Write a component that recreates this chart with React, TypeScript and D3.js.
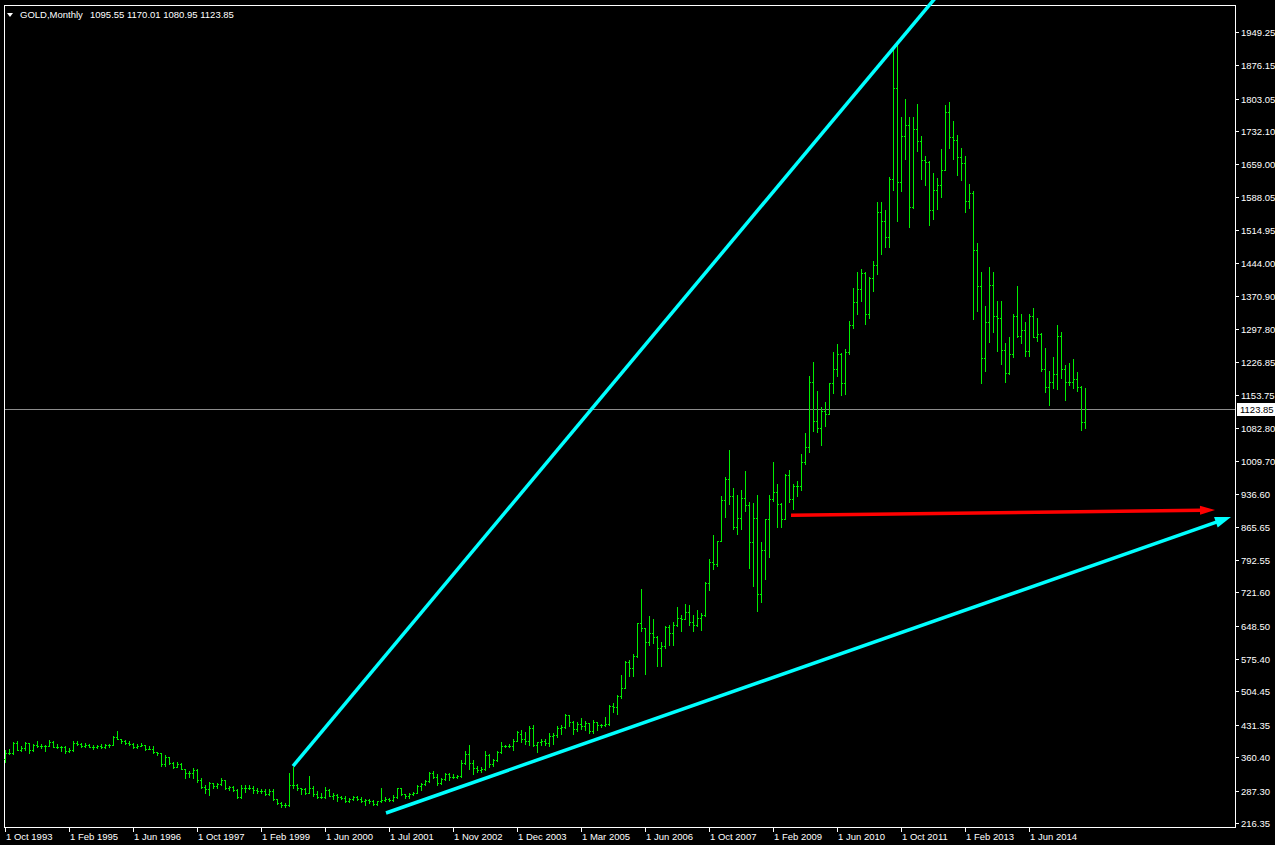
import React from "react";
import * as d3 from "d3";

// ---- Monthly OHLC bars (bar index 0 = Oct 1993 ... 270 = Aug 2015) ----
const opens: number[] = [
  356, 369, 370, 391, 377, 381, 391, 376, 387, 386, 384, 385, 394, 383, 383, 383,
  375, 376, 392, 389, 385, 387, 383, 382, 384, 382, 387, 387, 405, 400, 396, 392,
  390, 382, 385, 387, 379, 379, 371, 369, 345, 361, 348, 340, 345, 334, 326, 325,
  332, 311, 296, 290, 304, 297, 301, 310, 294, 296, 288, 273, 294, 292, 294, 288,
  287, 287, 280, 286, 268, 261, 255, 255, 299, 299, 292, 290, 283, 293, 279, 274,
  273, 288, 276, 277, 273, 271, 264, 269, 273, 268, 265, 267, 264, 258, 264, 267,
  270, 266, 273, 293, 279, 275, 279, 282, 297, 302, 308, 326, 318, 304, 312, 324,
  317, 318, 319, 347, 368, 348, 336, 333, 334, 365, 346, 354, 372, 385, 386, 385,
  396, 412, 400, 396, 424, 388, 393, 395, 391, 408, 410, 425, 426, 452, 438, 422,
  434, 428, 435, 417, 437, 430, 431, 433, 473, 470, 495, 513, 569, 556, 582, 654,
  643, 613, 633, 623, 599, 604, 646, 632, 650, 665, 663, 679, 657, 650, 665, 673,
  743, 789, 783, 834, 923, 971, 933, 865, 885, 928, 913, 833, 884, 718, 815, 882,
  927, 942, 916, 883, 979, 927, 955, 955, 1008, 1040, 1182, 1096, 1081, 1118, 1113, 1180,
  1212, 1244, 1181, 1248, 1307, 1357, 1386, 1421, 1332, 1411, 1439, 1556, 1536, 1500, 1628, 1826,
  1620, 1722, 1746, 1566, 1737, 1711, 1668, 1664, 1560, 1604, 1614, 1648, 1773, 1719, 1713, 1675,
  1663, 1578, 1596, 1472, 1393, 1234, 1313, 1396, 1327, 1323, 1253, 1202, 1244, 1326, 1284, 1296,
  1250, 1327, 1282, 1287, 1211, 1171, 1182, 1199, 1283, 1212, 1183, 1182, 1190, 1172, 1095.55,
];
const highs: number[] = [
  376, 378, 393, 396, 386, 393, 392, 389, 395, 389, 388, 398, 396, 390, 384, 385,
  380, 395, 397, 391, 391, 390, 388, 388, 389, 389, 390, 408, 418, 400, 398, 395,
  391, 389, 391, 388, 386, 384, 372, 369, 366, 362, 349, 349, 348, 335, 331, 336,
  335, 316, 299, 307, 305, 303, 316, 310, 298, 297, 290, 299, 300, 299, 297, 293,
  291, 291, 290, 290, 268, 262, 260, 326, 340, 301, 293, 294, 320, 298, 286, 283,
  295, 291, 281, 279, 276, 275, 271, 275, 275, 274, 269, 270, 267, 265, 294, 274,
  272, 278, 293, 294, 279, 281, 284, 300, 304, 310, 327, 331, 323, 316, 326, 326,
  323, 322, 354, 374, 387, 354, 342, 338, 373, 367, 357, 375, 393, 388, 389, 400,
  418, 420, 416, 428, 430, 394, 400, 400, 414, 414, 428, 430, 456, 454, 440, 438,
  446, 440, 436, 442, 438, 434, 448, 474, 479, 497, 541, 571, 574, 586, 654, 730,
  643, 670, 664, 626, 613, 648, 650, 657, 690, 673, 697, 693, 673, 682, 677, 745,
  795, 848, 835, 933, 975, 1033, 950, 935, 945, 988, 920, 917, 935, 832, 882, 936,
  1007, 960, 917, 980, 989, 960, 965, 1024, 1070, 1195, 1227, 1162, 1128, 1138, 1180, 1249,
  1265, 1245, 1254, 1316, 1388, 1424, 1431, 1424, 1412, 1448, 1577, 1577, 1560, 1632, 1913, 1921,
  1764, 1803, 1764, 1764, 1791, 1722, 1678, 1667, 1641, 1630, 1693, 1790, 1796, 1755, 1723, 1695,
  1677, 1617, 1600, 1488, 1424, 1348, 1434, 1424, 1361, 1361, 1267, 1280, 1332, 1392, 1331, 1315,
  1332, 1345, 1323, 1290, 1256, 1207, 1238, 1307, 1293, 1220, 1224, 1232, 1205, 1173, 1170.01,
];
const lows: number[] = [
  349, 367, 368, 376, 375, 377, 369, 374, 382, 380, 375, 385, 383, 381, 374, 370,
  371, 375, 388, 382, 383, 382, 379, 381, 381, 381, 383, 387, 400, 391, 389, 387,
  380, 380, 384, 377, 378, 369, 366, 342, 341, 346, 337, 338, 334, 316, 318, 316,
  307, 293, 283, 278, 293, 292, 300, 290, 288, 286, 271, 272, 285, 291, 283, 283,
  282, 278, 278, 267, 257, 252, 251, 254, 294, 289, 280, 280, 282, 275, 272, 271,
  271, 275, 270, 265, 268, 263, 262, 267, 266, 262, 255, 261, 255, 255, 262, 265,
  265, 264, 271, 277, 271, 272, 277, 281, 288, 300, 307, 316, 300, 302, 310, 310,
  314, 315, 317, 345, 335, 323, 328, 327, 333, 340, 341, 352, 370, 383, 383, 377,
  395, 394, 390, 388, 385, 371, 388, 388, 386, 390, 405, 412, 425, 428, 412, 418,
  422, 420, 414, 414, 420, 426, 428, 432, 460, 456, 491, 513, 538, 538, 580, 638,
  543, 607, 611, 561, 560, 600, 606, 607, 648, 636, 663, 650, 638, 647, 640, 670,
  726, 772, 780, 834, 887, 915, 860, 850, 860, 900, 775, 735, 681, 700, 750, 800,
  922, 864, 865, 883, 920, 905, 932, 945, 1003, 1030, 1075, 1072, 1044, 1086, 1112, 1158,
  1195, 1155, 1157, 1243, 1300, 1331, 1360, 1309, 1323, 1381, 1418, 1462, 1478, 1478, 1604, 1535,
  1600, 1670, 1523, 1563, 1688, 1627, 1613, 1527, 1540, 1562, 1588, 1646, 1695, 1672, 1635, 1626,
  1555, 1563, 1321, 1338, 1180, 1207, 1270, 1291, 1251, 1221, 1182, 1200, 1238, 1280, 1268, 1240,
  1240, 1281, 1273, 1206, 1161, 1131, 1170, 1167, 1191, 1142, 1175, 1170, 1162, 1077, 1080.95,
];
const closes: number[] = [
  369, 370, 391, 377, 381, 391, 376, 387, 386, 384, 385, 394, 383, 383, 383, 375,
  376, 392, 389, 385, 387, 383, 382, 384, 382, 387, 387, 405, 400, 396, 392, 390,
  382, 385, 387, 379, 379, 371, 369, 345, 361, 348, 340, 345, 334, 326, 325, 332,
  311, 296, 290, 304, 297, 301, 310, 294, 296, 288, 273, 294, 292, 294, 288, 287,
  287, 280, 286, 268, 261, 255, 255, 299, 299, 292, 290, 283, 293, 279, 274, 273,
  288, 276, 277, 273, 271, 264, 269, 273, 268, 265, 267, 264, 258, 264, 267, 270,
  266, 273, 293, 279, 275, 279, 282, 297, 302, 308, 326, 318, 304, 312, 324, 317,
  318, 319, 347, 368, 348, 336, 333, 334, 365, 346, 354, 372, 385, 386, 385, 396,
  416, 400, 396, 424, 388, 393, 395, 391, 408, 410, 425, 426, 452, 438, 422, 434,
  428, 435, 417, 437, 430, 431, 433, 473, 470, 495, 513, 569, 556, 582, 654, 643,
  613, 633, 623, 599, 604, 646, 632, 650, 665, 663, 679, 657, 650, 665, 673, 743,
  789, 783, 834, 923, 971, 933, 865, 885, 928, 913, 833, 884, 718, 815, 882, 927,
  942, 916, 883, 979, 927, 955, 955, 1008, 1040, 1182, 1096, 1081, 1118, 1113, 1180, 1212,
  1244, 1181, 1248, 1307, 1357, 1386, 1421, 1332, 1411, 1439, 1556, 1536, 1500, 1628, 1826, 1620,
  1722, 1746, 1566, 1737, 1711, 1668, 1664, 1560, 1604, 1614, 1648, 1773, 1719, 1713, 1675, 1663,
  1578, 1596, 1472, 1393, 1234, 1313, 1396, 1327, 1323, 1253, 1202, 1244, 1326, 1284, 1296, 1250,
  1327, 1282, 1287, 1211, 1171, 1182, 1199, 1283, 1212, 1183, 1182, 1190, 1172, 1095, 1123.85,
];

// ---- Axis labels ----
const dateLabels: string[] = [
  "1 Oct 1993", "1 Feb 1995", "1 Jun 1996", "1 Oct 1997", "1 Feb 1999", "1 Jun 2000",
  "1 Jul 2001", "1 Nov 2002", "1 Dec 2003", "1 Mar 2005", "1 Jun 2006", "1 Oct 2007",
  "1 Feb 2009", "1 Jun 2010", "1 Oct 2011", "1 Feb 2013", "1 Jun 2014",
];
const dateLabelBars: number[] = [0, 16, 32, 48, 64, 80, 96, 112, 128, 144, 160, 176, 192, 208, 224, 240, 256];
const priceTicks: string[] = [
  "1949.25", "1876.15", "1803.05", "1732.10", "1659.00", "1588.05", "1514.95", "1444.00",
  "1370.90", "1297.80", "1226.85", "1153.75", "1082.80", "1009.70", "936.60", "865.65",
  "792.55", "721.60", "648.50", "575.40", "504.45", "431.35", "360.40", "287.30", "216.35",
];
const lastPrice = 1123.85;
const titleText = "GOLD,Monthly";
const titleValues = "1095.55 1170.01 1080.95 1123.85";

// ---- Drawn objects (bar index, price) ----
const rayLine = { a: [72, 341], b: [222, 1913] };
const arrowCyan = { a: [95.25, 238.3], b: [306.5, 886.7] };
const arrowRed = { a: [196.5, 890.4], b: [302.5, 902.0] };

const W = 1275;
const H = 845;
const FONT = "'Liberation Sans', Arial, sans-serif";

export default function App() {
  const n = closes.length;
  const x = d3.scaleLinear().domain([0, n - 1]).range([5, 1085]);
  const y = d3.scaleLinear().domain([216.35, 1949.25]).range([823, 32]);
  const frame = { l: 4, t: 5, r: 1235, b: 827 };
  const green = "#00ee00";

  const bars = d3.range(n).map((i) => {
    const xi = Math.round(x(i));
    const yh = Math.round(y(highs[i]));
    const yl = Math.round(y(lows[i]));
    const yo = Math.round(y(opens[i]));
    const yc = Math.round(y(closes[i]));
    return (
      <g key={i}>
        <rect x={xi} y={yh} width={1} height={Math.max(1, yl - yh + 1)} fill={green} />
        <rect x={xi - 1} y={yo} width={1} height={1} fill={green} />
        <rect x={xi + 1} y={yc} width={1} height={1} fill={green} />
      </g>
    );
  });

  // ray extended to the top of the window
  const p1 = [x(rayLine.a[0]), y(rayLine.a[1])];
  const p2 = [x(rayLine.b[0]), y(rayLine.b[1])];
  const t = (-2 - p1[1]) / (p2[1] - p1[1]);
  const rayEnd = [p1[0] + t * (p2[0] - p1[0]), -2];

  const arrow = (ln: { a: number[]; b: number[] }, color: string, w: number, headLen: number, headHalf: number) => {
    const ax = x(ln.a[0]);
    const ay = y(ln.a[1]);
    const bx = x(ln.b[0]);
    const by = y(ln.b[1]);
    const len = Math.hypot(bx - ax, by - ay);
    const ux = (bx - ax) / len;
    const uy = (by - ay) / len;
    const baseX = bx - ux * headLen;
    const baseY = by - uy * headLen;
    const px = -uy;
    const py = ux;
    const pts = [
      [bx, by],
      [baseX + px * headHalf, baseY + py * headHalf],
      [baseX - px * headHalf, baseY - py * headHalf],
    ];
    return (
      <g>
        <line x1={ax} y1={ay} x2={baseX + ux * 2} y2={baseY + uy * 2} stroke={color} strokeWidth={w} />
        <polygon points={pts.map((p) => p.join(",")).join(" ")} fill={color} />
      </g>
    );
  };

  const yLast = Math.round(y(lastPrice));

  return (
    <div style={{ position: "fixed", left: 0, top: 0, width: W, height: H, background: "#000" }}>
      <svg width={W} height={H} style={{ display: "block" }} fontFamily={FONT}>
        <rect x={0} y={0} width={W} height={H} fill="#000" />
        {/* frame */}
        <rect
          x={frame.l + 0.5}
          y={frame.t + 0.5}
          width={frame.r - frame.l}
          height={frame.b - frame.t}
          fill="none"
          stroke="#fff"
          strokeWidth={1}
          shapeRendering="crispEdges"
        />
        {/* last price line */}
        <line x1={frame.l + 1} x2={frame.r} y1={yLast + 0.5} y2={yLast + 0.5} stroke="#8c8c8c" strokeWidth={1} shapeRendering="crispEdges" />
        {/* bars */}
        <g shapeRendering="crispEdges">{bars}</g>
        {/* trend lines */}
        <line x1={p1[0]} y1={p1[1]} x2={rayEnd[0]} y2={rayEnd[1]} stroke="#00ffff" strokeWidth={3.5} />
        {arrow(arrowCyan, "#00ffff", 3.5, 16, 5.5)}
        {arrow(arrowRed, "#ff0000", 3.5, 15, 4.5)}
        {/* right price axis */}
        <g shapeRendering="crispEdges">
          {priceTicks.map((lbl) => {
            const ty = Math.round(y(parseFloat(lbl)));
            return <rect key={lbl} x={frame.r} y={ty} width={4} height={1} fill="#fff" />;
          })}
        </g>
        {priceTicks.map((lbl) => {
          const ty = Math.round(y(parseFloat(lbl)));
          return (
            <text key={"t" + lbl} x={1241} y={ty + 3.5} fill="#fff" fontSize={9.5}>
              {lbl}
            </text>
          );
        })}
        {/* last price label */}
        <rect x={1237} y={yLast - 6} width={38} height={13} fill="#fff" />
        <text x={1240} y={yLast + 4} fill="#000" fontSize={9.5}>
          {lastPrice.toFixed(2)}
        </text>
        {/* bottom date axis */}
        <g shapeRendering="crispEdges">
          {dateLabelBars.map((b, k) => (
            <rect key={"dt" + k} x={Math.round(x(b))} y={frame.b} width={1} height={5} fill="#fff" />
          ))}
        </g>
        {dateLabelBars.map((b, k) => (
          <text key={"dl" + k} x={Math.round(x(b)) + 1} y={840} fill="#fff" fontSize={9.5}>
            {dateLabels[k]}
          </text>
        ))}
        {/* title */}
        <polygon points="7,13 13,13 10,17" fill="#fff" />
        <text x={20} y={17.5} fill="#fff" fontSize={9.5}>
          {titleText}
        </text>
        <text x={90} y={17.5} fill="#fff" fontSize={9.5}>
          {titleValues}
        </text>
      </svg>
    </div>
  );
}
